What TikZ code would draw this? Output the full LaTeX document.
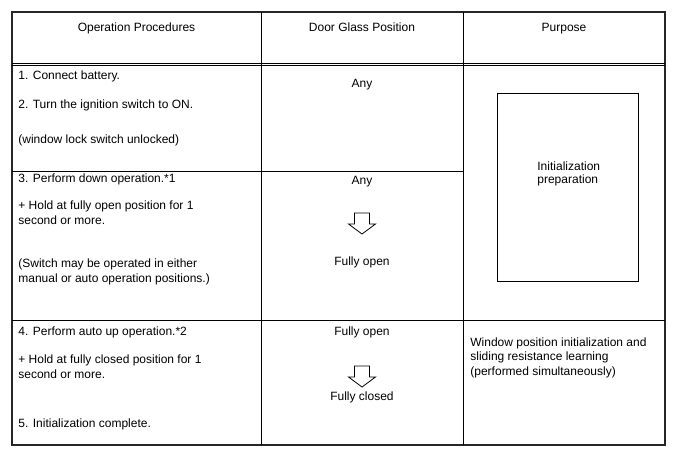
\documentclass[tikz,border=0pt]{standalone}
\usepackage{fontspec}
\setmainfont{Liberation Sans}
\begin{document}
\begin{tikzpicture}[x=1pt,y=-1pt,line width=0.8pt,
  every node/.style={inner sep=0pt,font=\fontsize{12}{14.5}\selectfont},
  step text/.style={anchor=base west,align=left},
  glass/.style={anchor=base},
  frame/.style={line width=1.3pt,draw=black!85}]
\useasboundingbox (0,0) rectangle (688,463);

% table rules
\draw[frame] (12,12) rectangle (665,445);
\draw (261,12) -- (261,445);
\draw (463,12) -- (463,445);
\draw (12,63) -- (665,63);
\draw (12,65.7) -- (665,65.7);
\draw (12,171) -- (463,171);
\draw (12,320) -- (665,320);

% header
\node[glass] (hproc) at (136.5,31) {Operation Procedures};
\node[glass] (hpos) at (362,31) {Door Glass Position};
\node[glass] (hpurp) at (564,31) {Purpose};

% row 1
\node[step text] (s1) at (18,79) {1. Connect battery.};
\node[step text] (s2) at (18,108) {2. Turn the ignition switch to ON.};
\node[step text] (s2x) at (18,143) {(window lock switch unlocked)};
\node[glass] (any1) at (362,87) {Any};

% row 2 (multi-line nodes sit on their last line)
\node[step text] (s3) at (18,182) {3. Perform down operation.*1};
\node[step text] (s3a) at (18,224) {+ Hold at fully open position for 1\\second or more.};
\node[step text] (s3b) at (18,282) {(Switch may be operated in either\\manual or auto operation positions.)};
\node[glass] (any2) at (362,184) {Any};
\node[glass] (open1) at (362,265) {Fully open};

% purpose box
\draw (497,93) rectangle (638,281);
\node[step text,font=\fontsize{12}{13}\selectfont] (prep) at (537,183) {Initialization\\preparation};

% row 3
\node[step text] (s4) at (18,335) {4. Perform auto up operation.*2};
\node[step text] (s4a) at (18,378) {+ Hold at fully closed position for 1\\second or more.};
\node[step text] (s5) at (18,427) {5. Initialization complete.};
\node[glass] (open2) at (362,335) {Fully open};
\node[glass] (closed) at (362,400) {Fully closed};
\node[step text] (learn) at (470,375) {Window position initialization and\\sliding resistance learning\\(performed simultaneously)};

% hollow down arrows
\foreach \t in {213,366}
  \draw (354.5,\t) -- (369.5,\t) -- (369.5,\t+11) -- (375.5,\t+11) -- (362,\t+21)
    -- (348.5,\t+11) -- (354.5,\t+11) -- cycle;

\end{tikzpicture}
\end{document}
